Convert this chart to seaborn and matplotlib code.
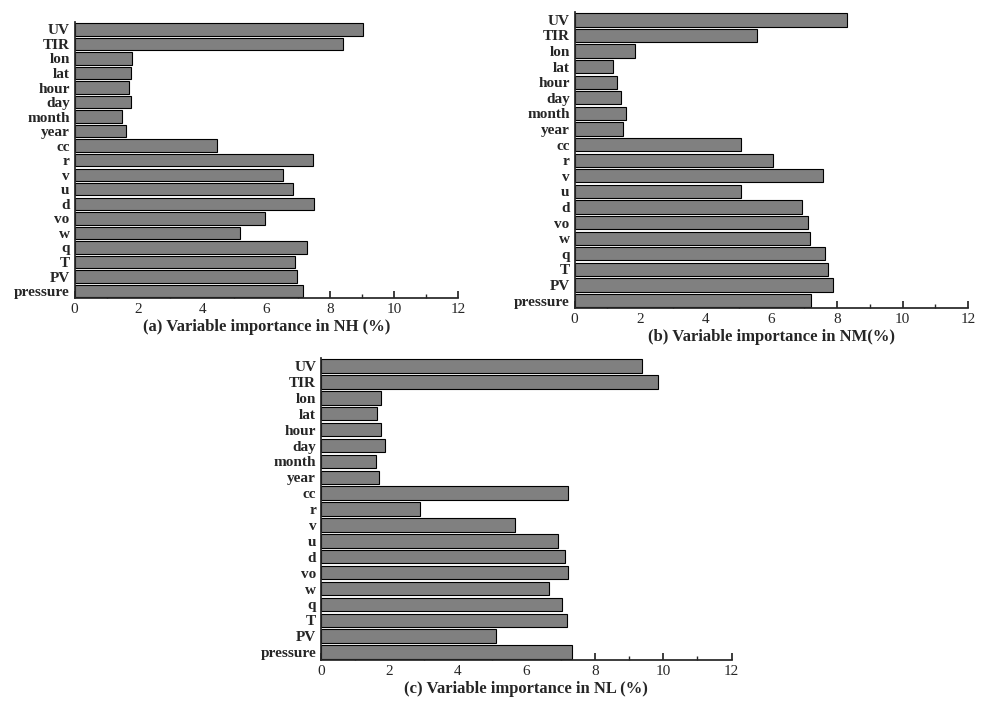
import pandas as pd
import matplotlib.pyplot as plt
import seaborn as sns
from matplotlib.ticker import MultipleLocator

sns.set_theme(style="ticks")
plt.rcParams['font.family'] = ['Liberation Serif', 'DejaVu Serif']

variables = ['UV', 'TIR', 'lon', 'lat', 'hour', 'day', 'month', 'year', 'cc', 'r',
             'v', 'u', 'd', 'vo', 'w', 'q', 'T', 'PV', 'pressure']

nh = [9.03, 8.4, 1.8, 1.75, 1.7, 1.78, 1.47, 1.6, 4.47, 7.47,
      6.53, 6.84, 7.5, 5.97, 5.19, 7.28, 6.9, 6.97, 7.16]
nm = [8.3, 5.55, 1.83, 1.16, 1.28, 1.43, 1.58, 1.49, 5.06, 6.06,
      7.59, 5.06, 6.92, 7.13, 7.19, 7.65, 7.74, 7.87, 7.22]
nl = [9.37, 9.84, 1.75, 1.64, 1.75, 1.87, 1.6, 1.69, 7.21, 2.89,
      5.66, 6.92, 7.12, 7.21, 6.66, 7.04, 7.18, 5.11, 7.33]

panels = [
    (nh, '(a) Variable importance in NH (%)', [0.075, 0.581, 0.386, 0.388]),
    (nm, '(b) Variable importance in NM(%)', [0.578, 0.567, 0.396, 0.416]),
    (nl, '(c) Variable importance in NL (%)', [0.323, 0.073, 0.413, 0.424]),
]

fig = plt.figure(figsize=(9.94, 7.12), dpi=100)
for values, label, rect in panels:
    ax = fig.add_axes(rect)
    df = pd.DataFrame({'var': variables, 'imp': values})
    sns.barplot(data=df, y='var', x='imp', orient='h', color='#808080',
                saturation=1, edgecolor='black', linewidth=0.8, width=0.85, ax=ax)
    ax.set_xlim(0, 12)
    ax.set_ylim(len(variables) - 0.5, -0.5)
    ax.xaxis.set_major_locator(MultipleLocator(2))
    ax.xaxis.set_minor_locator(MultipleLocator(1))
    ax.tick_params(axis='x', which='both', direction='in', labelsize=11)
    ax.tick_params(axis='x', which='major', length=5)
    ax.tick_params(axis='x', which='minor', length=3)
    ax.tick_params(axis='y', direction='in', length=4, labelsize=11)
    for t in ax.get_yticklabels():
        t.set_fontweight('bold')
    ax.set_ylabel('')
    ax.set_xlabel(label, fontsize=12, fontweight='bold', labelpad=2)
    sns.despine(ax=ax)

fig.savefig('out.png', dpi=100)
